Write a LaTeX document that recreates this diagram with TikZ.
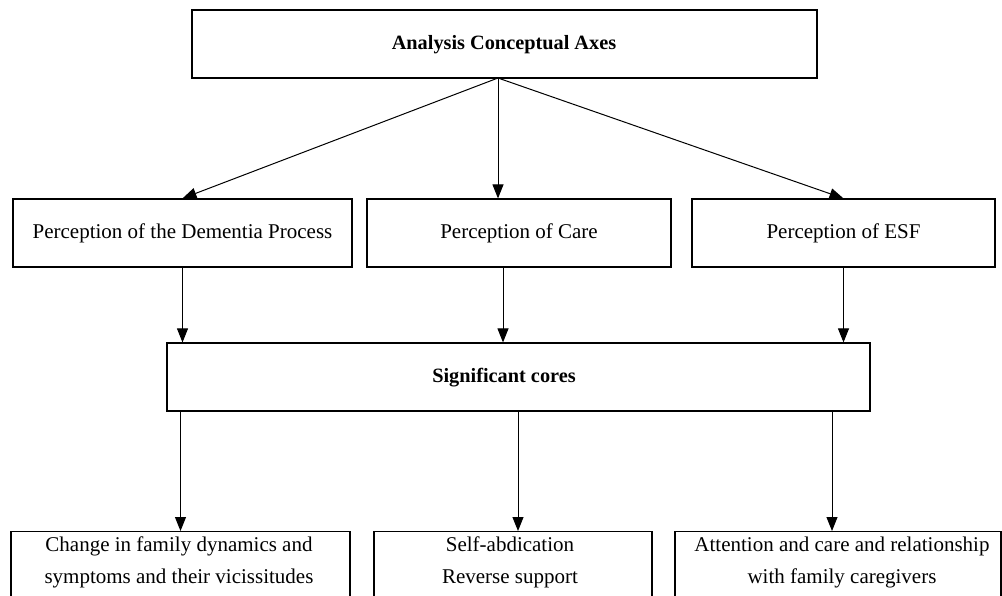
\documentclass[tikz,border=0pt]{standalone}
\usepackage{fontspec}
\setmainfont{Liberation Serif}
\usetikzlibrary{arrows.meta}
\tikzset{
  boxnode/.style={draw=black, line width=1.2pt, inner sep=0pt, fill=white},
  plain/.style={font=\fontsize{21}{32}\selectfont},
  strong/.style={font=\fontsize{20.3}{30}\selectfont\bfseries},
  txt/.style={inner sep=0pt, align=center, font=\fontsize{21}{32}\selectfont},
  arr/.style={draw=black, line width=1pt, -{Triangle[length=14pt,width=11pt]}}
}
\begin{document}
\begin{tikzpicture}[x=1pt,y=-1pt]
\useasboundingbox (0,0) rectangle (1002,595);
\clip (0,0) rectangle (1002,595);
% top box
\node[boxnode, minimum width=625, minimum height=68] (top) at (504.5,44) {};
\node[strong, inner sep=0pt] (toptext) at (504,45) {Analysis Conceptual Axes};
\coordinate (apex) at (498,78);
% middle row
\node[boxnode, plain, minimum width=339, minimum height=68] (p1) at (182.5,233) {Perception of the Dementia Process};
\node[boxnode, plain, minimum width=304, minimum height=68] (p2) at (519,233) {Perception of Care};
\node[boxnode, plain, minimum width=303, minimum height=68] (p3) at (843.5,233) {Perception of ESF};
% significant cores
\node[boxnode, minimum width=703, minimum height=68] (sig) at (518.5,377) {};
\node[strong, inner sep=0pt] (sigtext) at (504,378) {Significant cores};
% bottom row
\node[boxnode, minimum width=339, minimum height=120, anchor=north] (b1) at (180.5,531) {};
\node[boxnode, minimum width=278, minimum height=120, anchor=north] (b2) at (513,531) {};
\node[boxnode, minimum width=326, minimum height=120, anchor=north] (b3) at (838,531) {};
\node[txt, anchor=north] (b1t) at (179,537) {Change in family dynamics and\\symptoms and their vicissitudes};
\node[txt, anchor=north] (b2t) at (510,537) {Self-abdication\\Reverse support};
\node[txt, anchor=north] (b3t) at (842,537) {Attention and care and relationship\\with family caregivers};
% connectors
\draw[arr] (apex) -- (p1.north);
\draw[arr] (apex) -- (apex |- p2.north);
\draw[arr] (apex) -- (p3.north);
\draw[arr] (p1.south) -- (p1.south |- sig.north);
\draw[arr] ([xshift=-16pt]p2.south) -- ([xshift=-16pt]p2.south |- sig.north);
\draw[arr] (p3.south) -- (p3.south |- sig.north);
\draw[arr] (b1.north |- sig.south) -- (b1.north);
\draw[arr] ([xshift=5pt]b2.north |- sig.south) -- ([xshift=5pt]b2.north);
\draw[arr] ([xshift=-6pt]b3.north |- sig.south) -- ([xshift=-6pt]b3.north);
\end{tikzpicture}
\end{document}
